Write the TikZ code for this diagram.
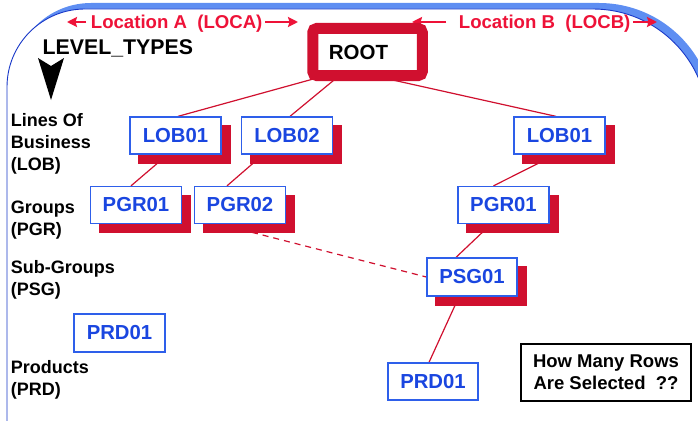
\documentclass[tikz,border=0pt]{standalone}
\usepackage{fontspec}
\setmainfont{Liberation Sans}
\usetikzlibrary{arrows.meta,shadows}
\pgfdeclarelayer{frame}
\pgfdeclarelayer{background}
\pgfsetlayers{frame,background,main}

\definecolor{crimson}{HTML}{D0102F}
\definecolor{locred}{HTML}{EE1238}
\definecolor{boxblue}{HTML}{2E5FEA}
\definecolor{textblue}{HTML}{1A46E0}
\definecolor{frameband}{HTML}{5E8EF2}
\definecolor{frameline}{HTML}{1838C8}

\begin{document}
\begin{tikzpicture}[x=1pt,y=-1pt,
  item/.style={draw=boxblue, line width=1.3pt, fill=white,
    minimum width=91pt, minimum height=37pt, inner sep=0pt,
    font=\fontsize{20.3}{24}\selectfont\bfseries, text=textblue},
  shadowed/.style={item, general shadow={fill=crimson, draw=crimson,
    line width=1.4pt, shadow xshift=9pt, shadow yshift=-9pt}},
  levellabel/.style={anchor=base west, inner sep=0pt, align=left,
    font=\fontsize{18}{21.7}\selectfont\bfseries},
  loclabel/.style={anchor=base west, inner sep=0pt, text=locred,
    font=\fontsize{18.6}{22}\selectfont\bfseries},
  locarrow/.style={draw=locred, line width=2.2pt,
    -{Stealth[length=10pt,width=10pt,inset=1.5pt]}},
  link/.style={draw=crimson, line width=1.2pt},
  dashedlink/.style={link, dash pattern=on 6pt off 5pt}
]
\useasboundingbox (0,0) rectangle (698,420);
\clip (0,0) rectangle (698,420);

% rounded frame with its raised blue edge (right side runs past the page)
\begin{pgfonlayer}{frame}
  \fill[frameband, shift={(6,-6)}]
    (7,470) -- (7,87) arc[start angle=180, end angle=270, radius=78]
    -- (593,9) arc[start angle=270, end angle=360, radius=115]
    -- (708,470) -- cycle;
  \filldraw[fill=white, draw=frameline, line width=0.9pt]
    (7,470) -- (7,87) arc[start angle=180, end angle=270, radius=78]
    -- (593,9) arc[start angle=270, end angle=360, radius=115]
    -- (708,470);
\end{pgfonlayer}

% location headings
\node[loclabel] (locA) at (90.7,29) {Location A~~(LOCA)};
\node[loclabel] (locB) at (458.7,29) {Location B~~(LOCB)};
\coordinate (aAtip) at (67,22);   \coordinate (aAtail) at (86,22);
\coordinate (bAtail) at (265,22); \coordinate (bAtip) at (298,22);
\coordinate (aBtip) at (412,22);  \coordinate (aBtail) at (446,22);
\coordinate (bBtail) at (633,22); \coordinate (bBtip) at (657,22);
\draw[locarrow] (aAtail) -- (aAtip);
\draw[locarrow] (bAtail) -- (bAtip);
\draw[locarrow] (aBtail) -- (aBtip);
\draw[locarrow] (bBtail) -- (bBtip);

% level types heading and its pointer
\node[anchor=base west, inner sep=0pt, font=\fontsize{21.3}{25}\selectfont\bfseries]
  (levels) at (42.5,54.5) {LEVEL\_TYPES};
\fill (38,58) -- (51,66) -- (64,58) -- (51,100) -- cycle;

% level labels (anchored at the baseline of their last line)
\node[levellabel] (lvlLOB) at (10.7,170) {Lines Of\\Business\\(LOB)};
\node[levellabel] (lvlPGR) at (10.7,235) {Groups\\(PGR)};
\node[levellabel] (lvlPSG) at (10.7,295) {Sub-Groups\\(PSG)};
\node[levellabel] (lvlPRD) at (10.7,395) {Products\\(PRD)};

% hierarchy
\node[draw=crimson, line width=11pt, rounded corners=4pt, fill=white,
  minimum width=109.5pt, minimum height=47pt, inner sep=0pt,
  font=\fontsize{20.5}{24}\selectfont\bfseries] (root) at (367.5,52) {ROOT\kern18pt};

\node[shadowed] (lobA) at (175.5,135.5) {LOB01};
\node[shadowed] (lobB) at (287,135.5) {LOB02};
\node[shadowed] (lobC) at (559.5,135.5) {LOB01};
\node[shadowed] (pgrA) at (136,205) {PGR01};
\node[shadowed] (pgrB) at (240,205) {PGR02};
\node[shadowed] (pgrC) at (503.5,205) {PGR01};
\node[shadowed, minimum width=90pt, minimum height=38pt] (psg) at (472,277) {PSG01};
\node[item, minimum height=38pt] (prdA) at (119.5,333) {PRD01};
\node[item, minimum width=90pt] (prdC) at (433,381.5) {PRD01};

\node[draw=black, line width=1.8pt, minimum width=170pt, minimum height=57pt,
  inner sep=0pt, align=center, font=\fontsize{18.5}{22}\selectfont\bfseries]
  (question) at (606,372.5) {How Many Rows\\Are Selected~~??};

% parent-child links
\begin{pgfonlayer}{background}
  \draw[link] ([xshift=6pt,yshift=2pt]root.south west) -- ([xshift=2.5pt]lobA.north);
  \draw[link] ([xshift=28pt,yshift=2pt]root.south west) -- ([xshift=3pt]lobB.north);
  \draw[link] ([xshift=81pt,yshift=2pt]root.south west) -- ([xshift=-3.5pt]lobC.north);
  \draw[link] ([xshift=-8pt]lobA.south) -- ([xshift=-5pt]pgrA.north);
  \draw[link] ([xshift=-24pt]lobB.south) -- ([xshift=-13pt]pgrB.north);
  \draw[link] ([xshift=-4pt]lobC.south) -- ([xshift=-10pt]pgrC.north);
  \draw[link] ([xshift=-12.5pt]pgrC.south) -- ([xshift=-16pt]psg.north);
  \draw[dashedlink] ([xshift=-20pt]pgrB.south) -- (psg.west);
  \draw[link] ([xshift=-13pt]psg.south) -- ([xshift=-4pt]prdC.north);
\end{pgfonlayer}
\end{tikzpicture}
\end{document}
